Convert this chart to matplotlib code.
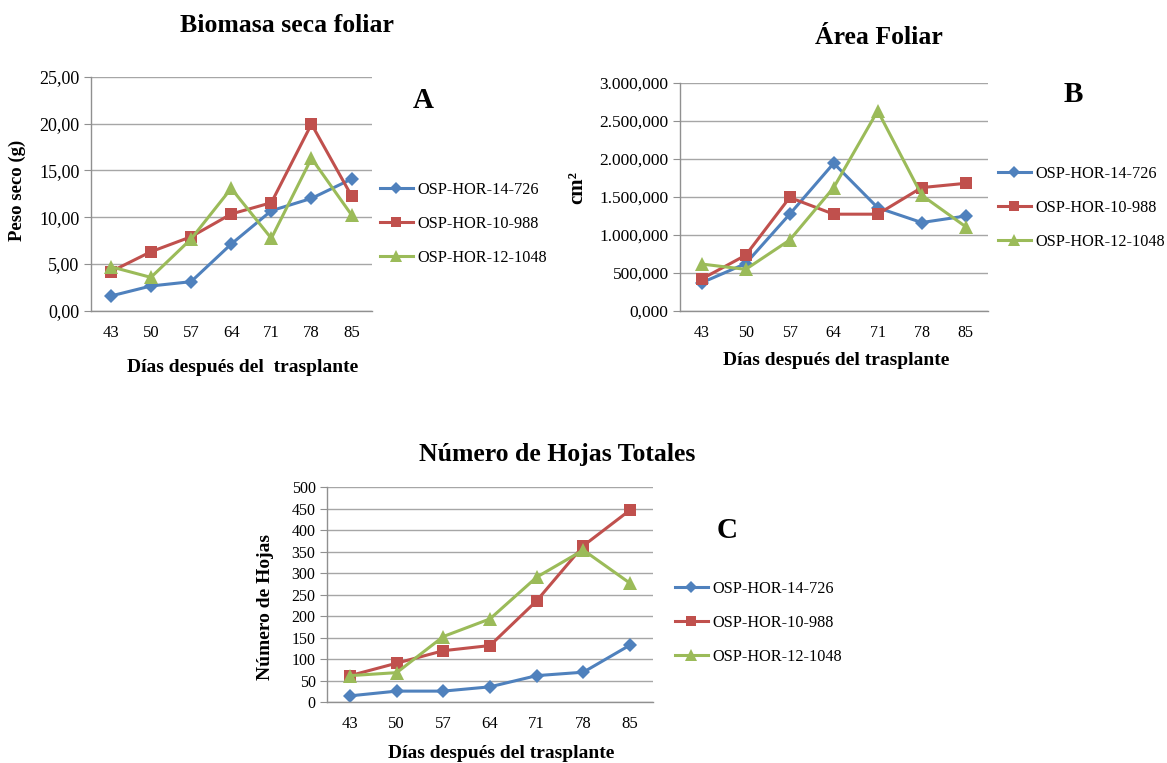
import matplotlib
matplotlib.use("Agg")
import matplotlib.pyplot as plt
from matplotlib.ticker import FuncFormatter

plt.rcParams['font.family'] = ['Liberation Serif', 'DejaVu Serif']

# datos
dias = ['43', '50', '57', '64', '71', '78', '85']
series = ['OSP-HOR-14-726', 'OSP-HOR-10-988', 'OSP-HOR-12-1048']

# A: biomasa seca foliar (g)
peso_726 = [1.57, 2.64, 3.10, 7.12, 10.68, 12.00, 14.07]
peso_988 = [4.17, 6.30, 7.90, 10.33, 11.54, 19.94, 12.25]
peso_1048 = [4.70, 3.56, 7.66, 13.07, 7.73, 16.28, 10.22]

# B: área foliar (cm2)
area_726 = [368, 620, 1270, 1940, 1355, 1160, 1246]
area_988 = [417, 730, 1490, 1270, 1270, 1620, 1676]
area_1048 = [614, 544, 930, 1620, 2630, 1520, 1105]

# C: número de hojas
hojas_726 = [15, 26, 26, 36, 62, 70, 133]
hojas_988 = [62, 91, 120, 132, 236, 364, 447]
hojas_1048 = [62, 69, 153, 194, 291, 354, 277]

colores = ['#4F81BD', '#C0504D', '#9BBB59']
marcadores = [('D', 7.5), ('s', 9), ('^', 10.5)]

W, H = 1167, 763
fig = plt.figure(figsize=(W / 100, H / 100), dpi=100)


def px(x, y):
    return x / W, 1 - y / H


def panel(rect, datos, ymax, ystep, fmt, ytick_fs, xtick_fs):
    ax = fig.add_axes(rect)
    x = range(len(dias))
    for d, c, (m, ms), nombre in zip(datos, colores, marcadores, series):
        ax.plot(x, d, color=c, lw=2.2, marker=m, ms=ms, label=nombre,
                markeredgewidth=0)
    ax.set_xlim(-0.5, len(dias) - 0.5)
    ax.set_ylim(0, ymax)
    ax.set_xticks(list(x))
    ax.set_xticklabels(dias, fontsize=xtick_fs)
    ax.set_yticks([i * ystep for i in range(int(round(ymax / ystep)) + 1)])
    ax.yaxis.set_major_formatter(FuncFormatter(fmt))
    ax.tick_params(axis='y', labelsize=ytick_fs, length=5, color='#909090', pad=3)
    ax.tick_params(axis='x', length=0, pad=10)
    ax.grid(axis='y', color='#A6A6A6', lw=1)
    ax.set_axisbelow(True)
    for s in ['top', 'right']:
        ax.spines[s].set_visible(False)
    for s in ['left', 'bottom']:
        ax.spines[s].set_color('#909090')
        ax.spines[s].set_linewidth(1)
    return ax


def fmt_a(v, pos):
    return f"{v:.2f}".replace('.', ',')


def fmt_b(v, pos):
    return f"{v:,.3f}".replace(',', ' ').replace('.', ',').replace(' ', '.')


def fmt_c(v, pos):
    return f"{v:.0f}"


axA = panel([90.7 / W, 1 - 310.7 / H, 281 / W, 234 / H],
            [peso_726, peso_988, peso_1048], 25, 5, fmt_a, 13, 12)
axB = panel([679.7 / W, 1 - 310.7 / H, 308 / W, 228 / H],
            [area_726, area_988, area_1048], 3000, 500, fmt_b, 12.5, 11.5)
axC = panel([326.7 / W, 1 - 702.3 / H, 326.6 / W, 215 / H],
            [hojas_726, hojas_988, hojas_1048], 500, 50, fmt_c, 11.5, 12)

# títulos
fig.text(*px(287, 26), 'Biomasa seca foliar', ha='center', va='center',
         fontsize=18.5, fontweight='bold')
fig.text(*px(879, 37), 'Área Foliar', ha='center', va='center',
         fontsize=18.5, fontweight='bold')
fig.text(*px(557, 455), 'Número de Hojas Totales', ha='center', va='center',
         fontsize=18.5, fontweight='bold')

# ejes x
fig.text(*px(243, 368), 'Días después del  trasplante', ha='center', va='center',
         fontsize=14, fontweight='bold')
fig.text(*px(836, 361), 'Días después del trasplante', ha='center', va='center',
         fontsize=14, fontweight='bold')
fig.text(*px(501, 753), 'Días después del trasplante', ha='center', va='center',
         fontsize=14, fontweight='bold')

# ejes y
fig.text(*px(17, 190), 'Peso seco (g)', ha='center', va='center', rotation=90,
         fontsize=13.5, fontweight='bold')
fig.text(*px(577, 187), 'cm²', ha='center', va='center', rotation=90,
         fontsize=15, fontweight='bold')
fig.text(*px(266, 607), 'Número de Hojas', ha='center', va='center', rotation=90,
         fontsize=14, fontweight='bold')

# letras
fig.text(*px(423, 100), 'A', ha='center', va='center', fontsize=21, fontweight='bold')
fig.text(*px(1073, 95), 'B', ha='center', va='center', fontsize=21, fontweight='bold')
fig.text(*px(727, 531), 'C', ha='center', va='center', fontsize=21, fontweight='bold')

# leyendas
for ax, (lx, ly) in [(axA, (380, 224)), (axB, (998, 208)), (axC, (675, 623))]:
    ax.legend(loc='center left', bbox_to_anchor=px(lx, ly),
              bbox_transform=fig.transFigure, frameon=False, fontsize=11.7,
              handlelength=2.0, handletextpad=0.3, labelspacing=1.1,
              borderpad=0, borderaxespad=0, markerscale=0.85)

fig.savefig('out.png', dpi=100)
